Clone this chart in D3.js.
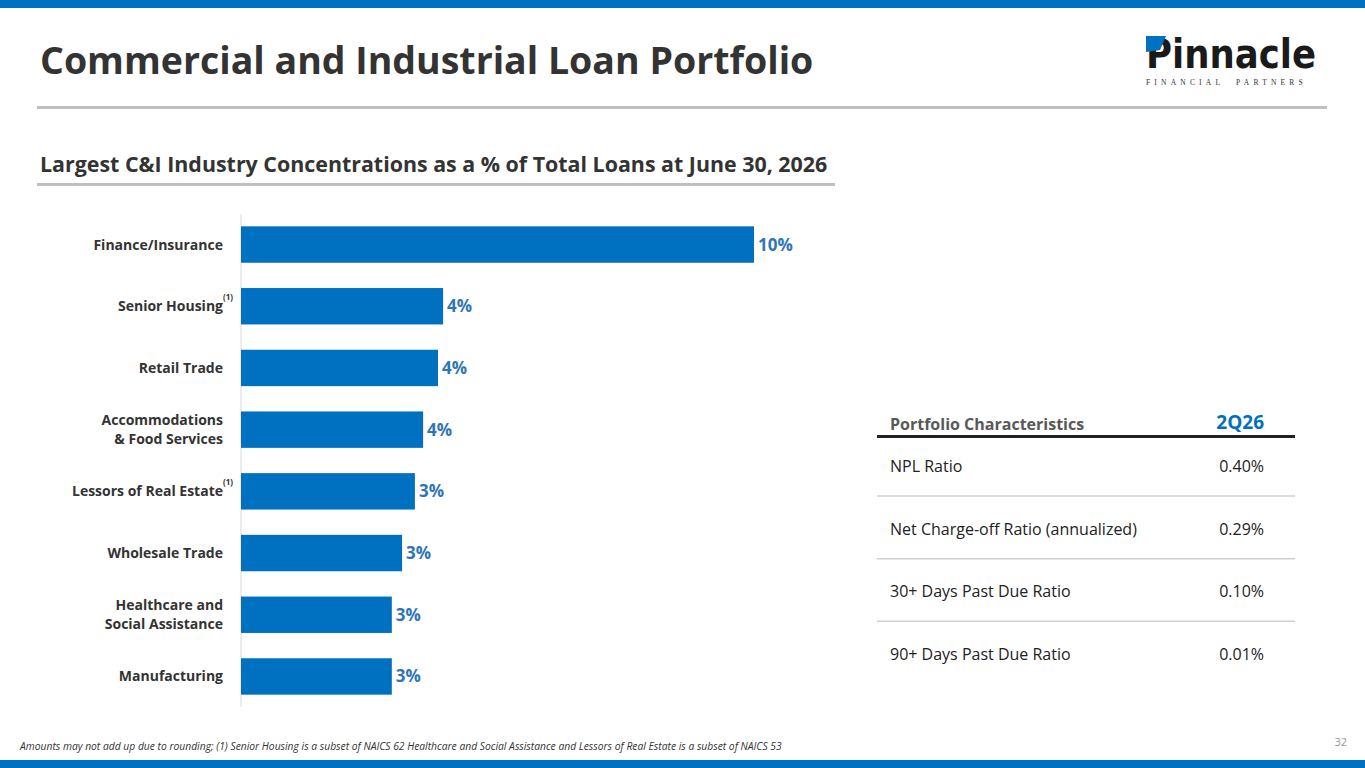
<!DOCTYPE html>
<html><head><meta charset="utf-8">
<script src="https://cdn.jsdelivr.net/npm/d3@7"></script>
<style>
body{margin:0;background:#fff;font-family:"Open Sans","Noto Sans",sans-serif;}
svg{display:block;}
</style></head><body>
<svg id="c" width="1365" height="768"></svg>
<script>
const categories = ["Finance/Insurance", "Senior Housing", "Retail Trade", "Accommodations\n& Food Services", "Lessors of Real Estate", "Wholesale Trade", "Healthcare and\nSocial Assistance", "Manufacturing"];
const values = [10.0, 3.94, 3.84, 3.55, 3.39, 3.14, 2.94, 2.94];
const valueLabels = ["10%", "4%", "4%", "4%", "3%", "3%", "3%", "3%"];
const footnoted = ["Senior Housing", "Lessors of Real Estate"];
const tableRows = ["NPL Ratio", "Net Charge-off Ratio (annualized)", "30+ Days Past Due Ratio", "90+ Days Past Due Ratio"];
const tableValues = ["0.40%", "0.29%", "0.10%", "0.01%"];

const blue = "#0070c0";
const svg = d3.select("#c");

svg.append("rect").attr("x",0).attr("y",0).attr("width",1365).attr("height",8).attr("fill",blue);
svg.append("rect").attr("x",0).attr("y",760).attr("width",1365).attr("height",8).attr("fill",blue);

svg.append("text").attr("x",40).attr("y",74).attr("font-size",37.5).attr("font-weight",700)
  .attr("fill","#333").text("Commercial and Industrial Loan Portfolio");
svg.append("rect").attr("x",37).attr("y",106).attr("width",1290).attr("height",3).attr("fill","#bfbfbf");

// logo
const lg = svg.append("g");
lg.append("text").attr("x",1146).attr("y",68).attr("font-size",40).attr("font-weight",900)
  .attr("font-family","'DejaVu Sans Condensed','Liberation Sans Narrow',sans-serif")
  .attr("fill","#1a1a1a").attr("textLength",170).attr("lengthAdjust","spacingAndGlyphs").text("Pinnacle");
lg.append("path").attr("d","M1146,36 L1166,36 L1160,50 L1146,52 Z").attr("fill",blue);
lg.append("text").attr("x",1146).attr("y",85).attr("font-size",7.5).attr("font-family","'Liberation Serif',serif")
  .attr("fill","#333").attr("letter-spacing",4.2).style("white-space","pre").text("FINANCIAL  PARTNERS");

svg.append("text").attr("x",40).attr("y",172).attr("font-size",21.4).attr("font-weight",700)
  .attr("fill","#333").text("Largest C&I Industry Concentrations as a % of Total Loans at June 30, 2026");
svg.append("rect").attr("x",37).attr("y",183).attr("width",798).attr("height",3).attr("fill","#bfbfbf");

// bars
const x = d3.scaleLinear().domain([0,10]).range([241,754]);
const y = d3.scaleBand().domain(categories).range([214,707]).paddingInner(0.41).paddingOuter(0.2);
svg.append("line").attr("x1",241).attr("x2",241).attr("y1",214).attr("y2",707).attr("stroke","#d9d9d9");
svg.selectAll("rect.bar").data(categories).join("rect").attr("class","bar")
  .attr("x",x(0)).attr("y",d=>y(d)).attr("height",y.bandwidth())
  .attr("width",(d,i)=>x(values[i])-x(0)).attr("fill",blue);
svg.selectAll("text.val").data(categories).join("text").attr("class","val")
  .attr("x",(d,i)=>x(values[i])+4).attr("y",d=>y(d)+y.bandwidth()/2+6)
  .attr("font-size",17).attr("font-weight",700).attr("fill","#2e75b6").text((d,i)=>valueLabels[i]);
const lab = svg.selectAll("g.lab").data(categories).join("g").attr("class","lab");
lab.each(function(d){
  const lines = d.split("\n");
  const cy = y(d)+y.bandwidth()/2;
  const g = d3.select(this);
  lines.forEach((l,k)=>{
    g.append("text").attr("x",223).attr("y",cy+5+(k-(lines.length-1)/2)*19)
      .attr("text-anchor","end").attr("font-size",14).attr("font-weight",700).attr("fill","#333").text(l);
  });
  if (footnoted.includes(d)) {
    g.append("text").attr("x",223).attr("y",cy-6).attr("font-size",8).attr("font-weight",700)
      .attr("fill","#333").text("(1)");
  }
});

// table
svg.append("text").attr("x",890).attr("y",430).attr("font-size",16).attr("font-weight",700).attr("fill","#595959").text("Portfolio Characteristics");
svg.append("text").attr("x",1264).attr("y",429).attr("text-anchor","end").attr("font-size",19).attr("font-weight",700).attr("fill",blue).text("2Q26");
svg.append("rect").attr("x",877).attr("y",435).attr("width",418).attr("height",3).attr("fill","#222");
const ry = d3.scalePoint().domain(tableRows).range([466,654]);
tableRows.forEach((r,i)=>{
  svg.append("text").attr("x",890).attr("y",ry(r)+6).attr("font-size",16).attr("fill","#222").text(r);
  svg.append("text").attr("x",1264).attr("y",ry(r)+6).attr("text-anchor","end").attr("font-size",16).attr("fill","#222").text(tableValues[i]);
  if (i<tableRows.length-1) svg.append("line").attr("x1",877).attr("x2",1295).attr("y1",ry(r)+30).attr("y2",ry(r)+30).attr("stroke","#d0d0d0").attr("stroke-width",1.5);
});

svg.append("text").attr("x",20).attr("y",750).attr("font-size",10.3).attr("font-style","italic").attr("fill","#333")
  .text("Amounts may not add up due to rounding; (1) Senior Housing is a subset of NAICS 62 Healthcare and Social Assistance and Lessors of Real Estate is a subset of NAICS 53");
svg.append("text").attr("x",1347).attr("y",746).attr("text-anchor","end").attr("font-size",11).attr("fill","#999").text("32");
</script></body></html>
